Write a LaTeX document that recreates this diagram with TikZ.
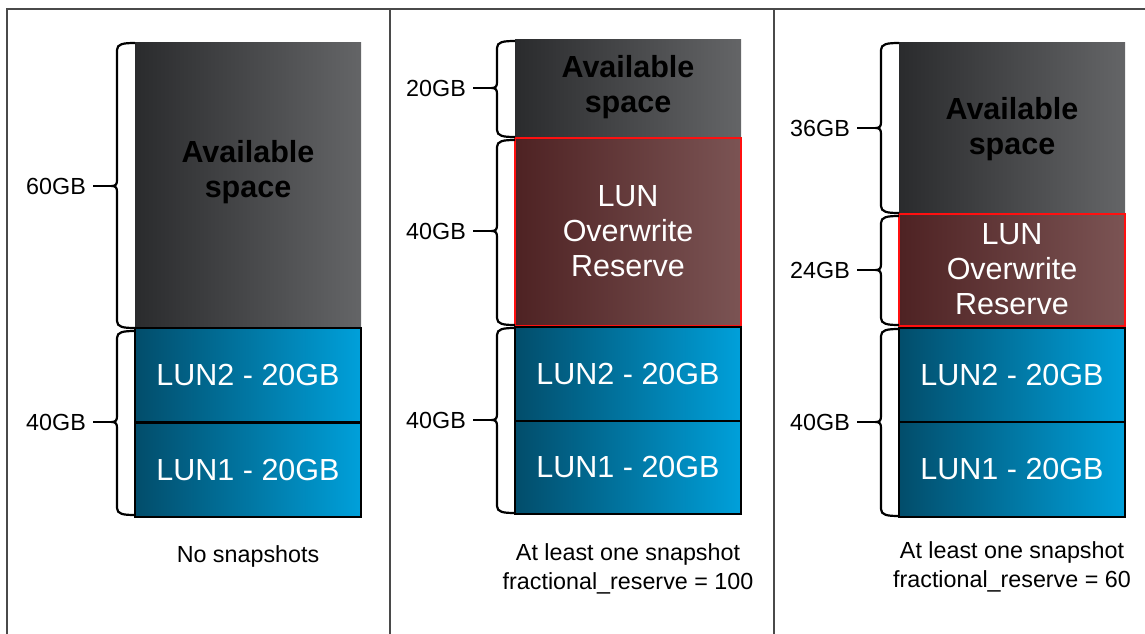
\documentclass[tikz,border=0pt]{standalone}
\usepackage{fontspec}
\setmainfont{Liberation Sans}
\definecolor{availL}{HTML}{2A2B2D}
\definecolor{availR}{HTML}{646567}
\definecolor{blueL}{HTML}{024D6B}
\definecolor{blueR}{HTML}{00A0DA}
\definecolor{redL}{HTML}{4E2223}
\definecolor{redR}{HTML}{7B5454}
\definecolor{frameC}{HTML}{4A4A4A}
\definecolor{resvC}{HTML}{FF1010}
\tikzset{
  box/.style={rectangle, inner sep=0pt, outer sep=0pt, minimum width=226pt, align=center},
  avail/.style={box, left color=availL, right color=availR},
  availtext/.style={inner sep=0pt, align=center, text=black, font=\fontsize{30.5}{35}\selectfont\bfseries},
  lun/.style={box, draw=black, line width=2pt, left color=blueL, right color=blueR, text=white, font=\fontsize{30.5}{35}\selectfont},
  resv/.style={box, draw=resvC, line width=2pt, left color=redL, right color=redR, text=white, font=\fontsize{30.5}{35}\selectfont},
  gblabel/.style={inner sep=0pt, anchor=east, font=\fontsize{23.3}{28}\selectfont},
  captiontext/.style={inner sep=0pt, align=center, font=\fontsize{23.3}{28.5}\selectfont},
  bracepath/.style={line width=2.2pt, black},
  framepath/.style={line width=1.5pt, frameC}
}
\newcommand{\gbbrace}[6]{%
  \draw[bracepath] (#1,#2) .. controls ({#1-12},#2) and ({#1-18},{#2+1}) .. ({#1-18},{#2+7})
    -- ({#1-18},{#4-6}) .. controls ({#1-18},{#4-2}) and ({#1-19},#4) .. ({#1-23},#4)
    .. controls ({#1-19},#4) and ({#1-18},{#4+2}) .. ({#1-18},{#4+6})
    -- ({#1-18},{#3-7}) .. controls ({#1-18},{#3-1}) and ({#1-12},#3) .. (#1,#3);
  \node[gblabel] (#5) at ({#1-49},#4) {#6};
  \coordinate (#5tip) at ({#1-23},#4);
  \draw[bracepath] ([xshift=7pt]#5.east) -- (#5tip);
}
\begin{document}
\begin{tikzpicture}[x=1pt, y=-1pt]
\useasboundingbox (0,0) rectangle (1145,634);
% frame
\draw[framepath] (7,634) -- (7,9) -- (1145,9);
\draw[framepath] (390,9) -- (390,634);
\draw[framepath] (774,9) -- (774,634);

% ---------- column 1 ----------
\node[avail, minimum height=285pt] (av1) at (248,185.5) {};
\node[availtext] (av1t) at (248,172) {Available\\space};
\node[lun, minimum height=94pt] (l2a) at (248,375) {LUN2 - 20GB};
\node[lun, minimum height=94pt] (l1a) at (248,469.5) {LUN1 - 20GB};
\gbbrace{135}{43}{328}{186}{g60}{60GB}
\gbbrace{135}{331}{515}{422}{g40a}{40GB}
\node[captiontext] (cap1) at (248,556) {No snapshots};

% ---------- column 2 ----------
\node[avail, minimum height=97pt] (av2) at (628,88.5) {};
\node[availtext] (av2t) at (628,87) {Available\\space};
\node[resv, minimum height=188pt] (rs2) at (628,231.5) {LUN\\Overwrite\\Reserve};
\node[lun, minimum height=93.5pt] (l2b) at (628,373.75) {LUN2 - 20GB};
\node[lun, minimum height=93.5pt] (l1b) at (628,467.25) {LUN1 - 20GB};
\gbbrace{515}{41}{137}{88}{g20}{20GB}
\gbbrace{515}{140}{325}{231}{g40b}{40GB}
\gbbrace{515}{328}{513}{420}{g40c}{40GB}
\node[captiontext] (cap2) at (628,569) {At least one snapshot\\fractional\_reserve = 100};

% ---------- column 3 ----------
\node[avail, minimum height=170pt] (av3) at (1012,128) {};
\node[availtext] (av3t) at (1012,129) {Available\\space};
\node[resv, minimum height=112pt] (rs3) at (1012,269.5) {LUN\\Overwrite\\Reserve};
\node[lun, minimum height=94.5pt] (l2c) at (1012,374.75) {LUN2 - 20GB};
\node[lun, minimum height=94.5pt] (l1c) at (1012,469.25) {LUN1 - 20GB};
\gbbrace{899}{43}{213}{128}{g36}{36GB}
\gbbrace{899}{216}{325}{270}{g24}{24GB}
\gbbrace{899}{329}{516}{422}{g40d}{40GB}
\node[captiontext] (cap3) at (1012,567) {At least one snapshot\\fractional\_reserve = 60};
\end{tikzpicture}
\end{document}
